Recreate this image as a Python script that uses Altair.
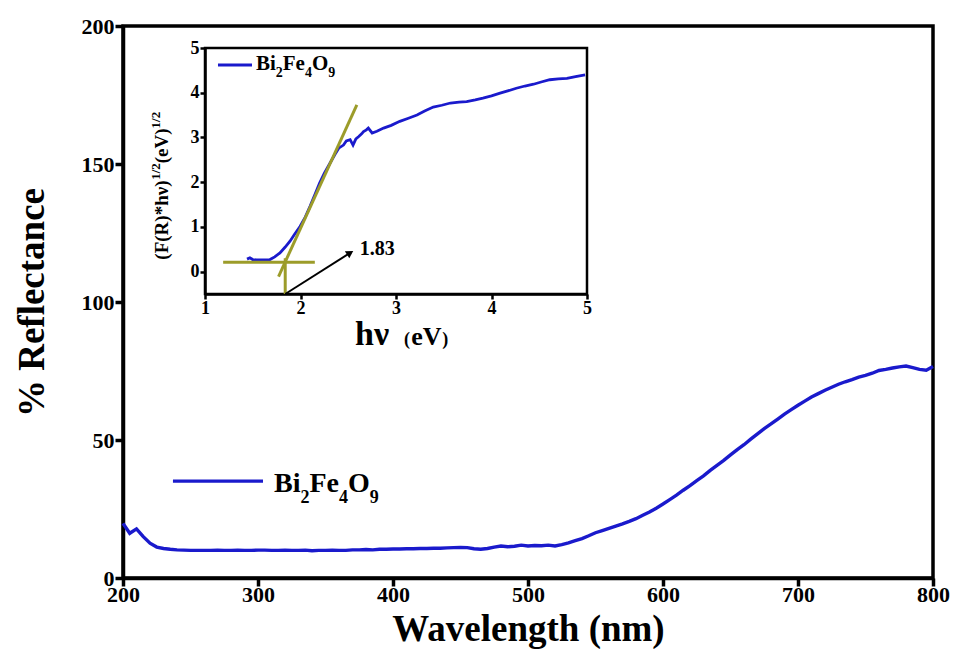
import altair as alt
import pandas as pd

FONT = "Liberation Serif"
BLUE = "#1a1acc"
OLIVE = "#9c9c2a"

# ---------------- main spectrum ----------------
wavelength = list(range(200, 805, 5))
reflectance = [
    19.8, 16.2, 17.8, 15.0, 12.6, 11.2, 10.7, 10.4, 10.2, 10.1,
    10.0, 10.0, 10.0, 10.0, 10.1, 10.0, 10.0, 10.1, 10.0, 10.0, 10.1,
    10.1, 10.0, 10.0, 10.1, 10.0, 10.0, 10.1, 9.9, 10.0, 10.0,
    10.1, 10.0, 10.0, 10.2, 10.2, 10.3, 10.2, 10.4, 10.4, 10.5,
    10.5, 10.6, 10.6, 10.7, 10.7, 10.8, 10.8, 10.9, 11.0, 11.1,
    11.0, 10.6, 10.4, 10.7, 11.2, 11.6, 11.3, 11.5, 11.9, 11.6,
    11.8, 11.7, 11.9, 11.6, 12.1, 12.7, 13.5, 14.3, 15.3, 16.4,
    17.2, 18.0, 18.8, 19.6, 20.5, 21.5, 22.7, 23.9, 25.3, 26.8,
    28.4, 30.0, 31.8, 33.5, 35.3, 37.0, 39.0, 40.8, 42.6, 44.6,
    46.5, 48.3, 50.3, 52.2, 54.1, 55.8, 57.6, 59.4, 61.0, 62.6,
    64.1, 65.6, 66.8, 68.0, 69.1, 70.2, 71.1, 71.9, 72.8, 73.4,
    74.2, 75.2, 75.6, 76.1, 76.5, 76.8, 76.2, 75.6, 75.3, 76.6,
]
x_ticks_main = [200, 300, 400, 500, 600, 700, 800]
y_ticks_main = [0, 50, 100, 150, 200]

legend_wl = [237.0, 303.7]
legend_R = [35.1, 35.1]
legend_text = ["Bi", "2", "Fe", "4", "O", "9"]
legend_text_wl = [311.9, 331.5, 338.1, 360.0, 366.7, 382.8]
legend_text_R = [31.2, 27.2, 31.2, 27.2, 31.2, 27.2]
legend_text_fs = [28, 18, 28, 18, 28, 18]

# ---------------- inset (Tauc plot) ----------------
hv = [1.44, 1.47, 1.50, 1.54, 1.60, 1.68, 1.73, 1.785, 1.84, 1.89, 1.94, 1.995,
      2.05, 2.10, 2.15, 2.20, 2.25, 2.31, 2.36, 2.40, 2.45, 2.48, 2.52, 2.55,
      2.58, 2.61, 2.64, 2.66, 2.69, 2.71, 2.75, 2.80, 2.87, 2.95, 3.04, 3.13,
      3.22, 3.30, 3.39, 3.48, 3.57, 3.66, 3.74, 3.83, 3.91, 4.00, 4.09, 4.17,
      4.26, 4.35, 4.44, 4.52, 4.61, 4.70, 4.79, 4.88, 4.98]
fr = [0.28, 0.31, 0.27, 0.26, 0.26, 0.27, 0.33, 0.42, 0.55, 0.68, 0.84, 1.01,
      1.22, 1.46, 1.72, 1.98, 2.20, 2.43, 2.62, 2.76, 2.83, 2.92, 2.95, 2.83,
      2.97, 3.02, 3.08, 3.13, 3.17, 3.21, 3.10, 3.14, 3.21, 3.27, 3.36, 3.43,
      3.50, 3.59, 3.68, 3.72, 3.77, 3.79, 3.80, 3.84, 3.88, 3.93, 3.99, 4.04,
      4.10, 4.15, 4.19, 4.24, 4.29, 4.31, 4.32, 4.36, 4.40]
x_ticks_in = [1, 2, 3, 4, 5]
y_ticks_in = [0, 1, 2, 3, 4, 5]

tangent_hv = [1.77, 2.59]
tangent_fr = [-0.11, 3.73]
base_hv = [1.19, 2.15]
base_fr = [0.21, 0.21]
vert_hv = [1.84, 1.84]
vert_fr = [-0.5, 0.30]
arrow_hv = [1.84, 2.52]
arrow_fr = [-0.5, 0.42]
gap_value = "1.83"
gap_hv = 2.62
gap_fr = 0.38

in_leg_hv = [1.136, 1.492]
in_leg_fr = [4.62, 4.62]
in_leg_text = ["Bi", "2", "Fe", "4", "O", "9"]
in_leg_text_hv = [1.534, 1.741, 1.814, 2.047, 2.120, 2.291]
in_leg_text_fr = [4.51, 4.36, 4.51, 4.36, 4.51, 4.36]
in_leg_text_fs = [21, 14, 21, 14, 21, 14]

ytitle_text = ["(F(R)*hν)", "1/2", "(eV)", "1/2"]
ytitle_hv = [0.613, 0.529, 0.613, 0.529]
ytitle_fr = [0.268, 2.054, 2.424, 3.201]
ytitle_fs = [19, 13, 19, 13]

xtitle_text = ["hν", "(", "eV", ")"]
xtitle_hv = [2.571, 3.085, 3.159, 3.483]
xtitle_fr = [-1.63, -1.63, -1.63, -1.63]
xtitle_fs = [34, 18, 26, 18]

# ---------------- main layers ----------------
W, H = 810, 552
X_MAIN = alt.Scale(domain=[200, 800], nice=False, zero=False)
Y_MAIN = alt.Scale(domain=[0, 200], nice=False)
COMMON = dict(labelFont=FONT, labelFontWeight="bold", titleFont=FONT,
              titleFontWeight="bold", grid=False, ticks=True, tickOpacity=1,
              domainColor="black", tickColor="black", labelColor="black",
              titleColor="black", labelFlush=False)
AX_X_MAIN = alt.Axis(values=x_ticks_main, title="Wavelength (nm)", labelFontSize=22,
                     titleFontSize=37, tickSize=8, tickWidth=3.5, domainWidth=3.5,
                     labelPadding=-2, titlePadding=6, **COMMON)
AX_Y_MAIN = alt.Axis(values=y_ticks_main, title="% Reflectance", labelFontSize=22,
                     titleFontSize=37, tickSize=8, tickWidth=3.5, domainWidth=3.5,
                     labelPadding=1, titlePadding=30, **COMMON)


def mx(f):
    return alt.X(f, type="quantitative", scale=X_MAIN, axis=AX_X_MAIN)


def my(f):
    return alt.Y(f, type="quantitative", scale=Y_MAIN, axis=AX_Y_MAIN)


main_df = pd.DataFrame({"wl": wavelength, "R": reflectance})
main_line = alt.Chart(main_df).mark_line(color=BLUE, strokeWidth=3.4).encode(
    x=mx("wl"), y=my("R"))

leg_line = alt.Chart(pd.DataFrame({"wl": legend_wl, "R": legend_R})).mark_line(
    color=BLUE, strokeWidth=3.4).encode(x=mx("wl"), y=my("R"))

leg_text = alt.Chart(pd.DataFrame({"wl": legend_text_wl, "R": legend_text_R,
                                   "t": legend_text, "fs": legend_text_fs})).mark_text(
    align="left", baseline="alphabetic", font=FONT, fontWeight="bold", color="black"
).encode(x=mx("wl"), y=my("R"), text="t:N", size=alt.Size("fs:Q", scale=None, legend=None))

main = alt.layer(main_line, leg_line, leg_text)

# ---------------- inset layers ----------------
IN_X0, IN_X1, IN_Y0, IN_Y1 = 82, 464, 268, 22
X_IN = alt.Scale(domain=[1, 5], range=[IN_X0, IN_X1], nice=False, zero=False)
Y_IN = alt.Scale(domain=[-0.5, 5], range=[IN_Y0, IN_Y1], nice=False, zero=False)
AX_X_IN = alt.Axis(values=x_ticks_in, title=None, orient="bottom", offset=-(H - IN_Y0),
                   labelFontSize=18, tickSize=5, tickWidth=2.5, domainWidth=2.5,
                   labelPadding=0, **COMMON)
AX_Y_IN = alt.Axis(values=y_ticks_in, title=None, orient="left", offset=-IN_X0,
                   labelFontSize=18, tickSize=5, tickWidth=2.5, domainWidth=2.5,
                   labelPadding=1, **COMMON)


def ix(f):
    return alt.X(f, type="quantitative", scale=X_IN, axis=AX_X_IN)


def iy(f):
    return alt.Y(f, type="quantitative", scale=Y_IN, axis=AX_Y_IN)


frame = alt.Chart(pd.DataFrame({"a": [1], "a2": [5], "b": [-0.5], "b2": [5]})).mark_rect(
    fillOpacity=0, stroke="black", strokeWidth=2.5).encode(
    x=ix("a"), x2="a2:Q", y=iy("b"), y2="b2:Q")

tauc = alt.Chart(pd.DataFrame({"h": hv, "f": fr})).mark_line(
    color=BLUE, strokeWidth=2.8).encode(x=ix("h"), y=iy("f"))


def seg(xs, ys, color, width):
    return alt.Chart(pd.DataFrame({"h": xs, "f": ys})).mark_line(
        color=color, strokeWidth=width).encode(x=ix("h"), y=iy("f"))


tangent = seg(tangent_hv, tangent_fr, OLIVE, 3)
base = seg(base_hv, base_fr, OLIVE, 3)
vert = seg(vert_hv, vert_fr, OLIVE, 3)
arrow = seg(arrow_hv, arrow_fr, "black", 2)
arrow_head = alt.Chart(pd.DataFrame({"h": [arrow_hv[1]], "f": [arrow_fr[1]]})).mark_point(
    shape="triangle-up", filled=True, color="black", size=70, angle=58, opacity=1
).encode(x=ix("h"), y=iy("f"))

gap_lbl = alt.Chart(pd.DataFrame({"h": [gap_hv], "f": [gap_fr], "t": [gap_value]})).mark_text(
    align="left", baseline="alphabetic", font=FONT, fontWeight="bold", fontSize=20,
    color="black").encode(x=ix("h"), y=iy("f"), text="t:N")

in_leg_line = seg(in_leg_hv, in_leg_fr, BLUE, 2.8)
in_leg_txt = alt.Chart(pd.DataFrame({"h": in_leg_text_hv, "f": in_leg_text_fr,
                                     "t": in_leg_text, "fs": in_leg_text_fs})).mark_text(
    align="left", baseline="alphabetic", font=FONT, fontWeight="bold", color="black"
).encode(x=ix("h"), y=iy("f"), text="t:N", size=alt.Size("fs:Q", scale=None, legend=None))

ytitle = alt.Chart(pd.DataFrame({"h": ytitle_hv, "f": ytitle_fr, "t": ytitle_text,
                                 "fs": ytitle_fs})).mark_text(
    align="left", baseline="alphabetic", angle=270, font=FONT, fontWeight="bold",
    color="black").encode(x=ix("h"), y=iy("f"), text="t:N",
                          size=alt.Size("fs:Q", scale=None, legend=None))

xtitle = alt.Chart(pd.DataFrame({"h": xtitle_hv, "f": xtitle_fr, "t": xtitle_text,
                                 "fs": xtitle_fs})).mark_text(
    align="left", baseline="alphabetic", font=FONT, fontWeight="bold",
    color="black").encode(x=ix("h"), y=iy("f"), text="t:N",
                          size=alt.Size("fs:Q", scale=None, legend=None))

inset = alt.layer(frame, tauc, tangent, base, vert, arrow, arrow_head,
                  gap_lbl, in_leg_line, in_leg_txt, ytitle, xtitle)

chart = alt.layer(main, inset).resolve_scale(
    x="independent", y="independent", size="independent"
).properties(
    width=W, height=H, autosize="none", background="white",
    padding={"left": 115, "top": 18, "right": 17, "bottom": 71},
).configure_view(stroke="black", strokeWidth=3.5)

chart.save("out.html", embed_options={"renderer": "svg", "actions": False})
